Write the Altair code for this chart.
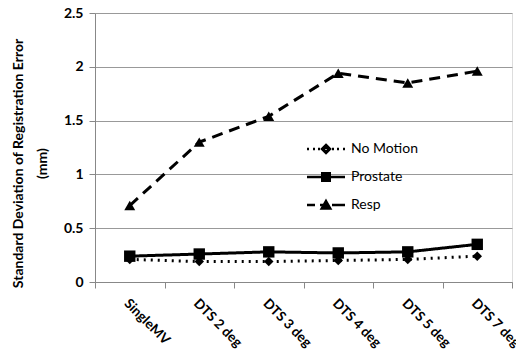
import altair as alt
import pandas as pd

categories = ["SingleMV", "DTS 2 deg", "DTS 3 deg", "DTS 4 deg", "DTS 5 deg", "DTS 7 deg"]
no_motion = [0.21, 0.19, 0.19, 0.20, 0.21, 0.24]
prostate = [0.24, 0.26, 0.28, 0.27, 0.28, 0.35]
resp = [0.71, 1.30, 1.54, 1.94, 1.85, 1.96]
series_names = ["No Motion", "Prostate", "Resp"]
y_ticks = [0, 0.5, 1, 1.5, 2, 2.5]

rows = []
for name, vals in zip(series_names, [no_motion, prostate, resp]):
    for c, v in zip(categories, vals):
        rows.append({"cat": c, "value": v, "series": name})
df = pd.DataFrame(rows)

FONT = "Lato"

x_enc = alt.X("cat:N", sort=categories,
              scale=alt.Scale(domain=categories, paddingInner=0, paddingOuter=0),
              axis=alt.Axis(title=None, labelAngle=45, labelAlign="left", labelBaseline="top",
                            labelFont=FONT, labelFontWeight="bold", labelFontSize=13.5,
                            labelColor="black", labelPadding=8, tickBand="extent",
                            domainColor="#888", tickColor="#888", tickSize=6, grid=False,
                            labelOffset=1))
y_enc = alt.Y("value:Q", scale=alt.Scale(domain=[0, 2.5], nice=False),
              axis=alt.Axis(values=y_ticks, format="~g",
                            title=["Standard Deviation of Registration Error", "(mm)"],
                            titleFont=FONT, titleFontWeight="bold", titleFontSize=14,
                            titleColor="black", titlePadding=14, titleY=150,
                            titleLineHeight=24,
                            labelFont=FONT, labelFontWeight="bold", labelFontSize=14,
                            labelColor="black", labelPadding=6,
                            domainColor="#888", tickColor="#888", tickSize=6,
                            gridColor="#999", gridWidth=1))

styles = {
    "No Motion": ([2, 5], "diamond", 90),
    "Prostate": ([1, 0], "square", 130),
    "Resp": ([11, 7], "triangle-up", 120),
}
layers = []
for name in series_names:
    dash, shp, sz = styles[name]
    base = alt.Chart(df).transform_filter(alt.datum.series == name)
    layers.append(base.mark_line(color="black", strokeWidth=3, strokeDash=dash).encode(x=x_enc, y=y_enc))
for name in series_names:
    dash, shp, sz = styles[name]
    base = alt.Chart(df).transform_filter(alt.datum.series == name)
    layers.append(base.mark_point(shape=shp, size=sz, filled=True, color="black", opacity=1)
                  .encode(x=x_enc, y=y_enc))

# legend symbols: line segments (with dash pattern) plus a marker drawn by nested outlines
leg_paths = [
    "M-3.8,0H-3.4M-2.6,0H-2.2M-1.6,0H-1.2M1.2,0H1.6M2.2,0H2.6M3.4,0H3.8"
    "M0,-0.8L0.8,0L0,0.8L-0.8,0ZM0,-0.4L0.4,0L0,0.4L-0.4,0Z",
    "M-3.8,0H3.8M-0.75,-0.75H0.75V0.75H-0.75ZM-0.35,-0.35H0.35V0.35H-0.35Z",
    "M-3.8,0H-2.2M-1.2,0H-0.6M1.2,0H3.8M0,-0.8L0.85,0.7H-0.85ZM0,-0.2L0.4,0.45H-0.4Z",
]
legend_layer = alt.Chart(df).mark_point(filled=False, color="black", strokeWidth=2.5).encode(
    x=x_enc, y=y_enc,
    opacity=alt.value(0),
    shape=alt.Shape("series:N", scale=alt.Scale(domain=series_names, range=leg_paths),
                    legend=alt.Legend(title=None, orient="none", legendX=224, legendY=129,
                                      symbolSize=100, symbolStrokeWidth=2.5,
                                      symbolStrokeColor="black",
                                      symbolOpacity=1, labelOffset=18, rowPadding=10,
                                      labelFont=FONT, labelFontSize=14, labelColor="black")),
)
layers.append(legend_layer)

chart = alt.layer(*layers).properties(
    width=417, height=269,
    padding={"left": 87, "top": 5, "right": 4, "bottom": 70},
    autosize=alt.AutoSizeParams(type="none"),
).configure_view(stroke=None).configure(background="white")

chart.save("out.html", embed_options={"renderer": "svg", "actions": False})
